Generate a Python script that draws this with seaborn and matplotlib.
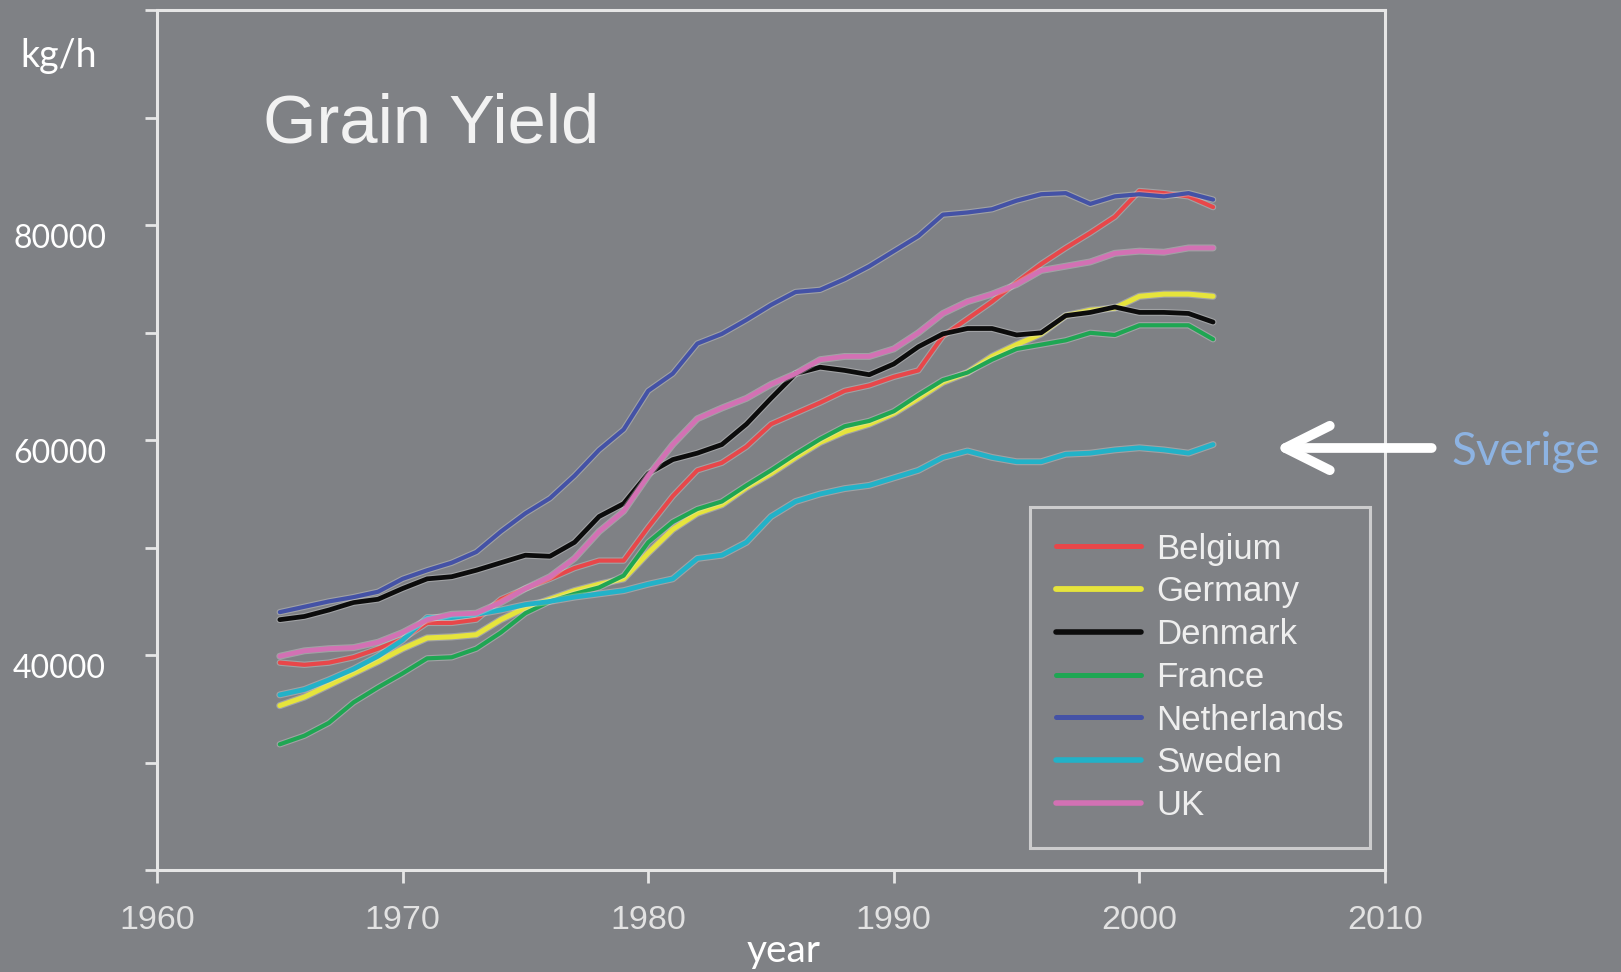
import numpy as np
import pandas as pd
import matplotlib
matplotlib.use("Agg")
import matplotlib.pyplot as plt
import matplotlib.patheffects as pe
import matplotlib.transforms as mtransforms
from matplotlib.lines import Line2D
import seaborn as sns

# ---------------- data ----------------
years = list(range(1965, 2004))

belgium = [39300, 39100, 39300, 39800, 40600, 41500, 43000, 43000, 43300, 45200,
           46200, 47100, 48100, 48800, 48800, 51900, 54800, 57200, 57900, 59400,
           61500, 62500, 63500, 64600, 65100, 65900, 66500, 69700, 71300, 72900,
           74700, 76400, 77900, 79300, 80800, 83200, 83000, 82700, 81700]
germany = [35300, 36100, 37200, 38300, 39400, 40600, 41600, 41700, 41900, 43300,
           44400, 45200, 46000, 46600, 47100, 49500, 51700, 53200, 54000, 55600,
           56900, 58400, 59800, 60800, 61500, 62500, 63900, 65400, 66300, 67800,
           68900, 69900, 71600, 72100, 72300, 73400, 73600, 73600, 73400]
denmark = [43300, 43600, 44200, 44900, 45200, 46200, 47100, 47300, 47900, 48600,
           49300, 49200, 50500, 52900, 54100, 56900, 58200, 58800, 59600, 61500,
           63900, 66200, 66800, 66500, 66100, 67100, 68700, 69900, 70400, 70400,
           69800, 70000, 71600, 71900, 72400, 71900, 71900, 71800, 71000]
france = [31700, 32500, 33700, 35600, 37000, 38300, 39700, 39800, 40600, 42100,
          43900, 45000, 45700, 46300, 47400, 50500, 52400, 53600, 54300, 55800,
          57200, 58700, 60100, 61300, 61800, 62700, 64200, 65600, 66300, 67500,
          68500, 68900, 69300, 70000, 69800, 70700, 70700, 70700, 69400]
netherlands = [44000, 44500, 45000, 45400, 45900, 47100, 47900, 48600, 49600, 51500,
               53200, 54600, 56700, 59100, 61000, 64600, 66200, 69000, 69900, 71200,
               72600, 73800, 74000, 75000, 76200, 77600, 79000, 81000, 81200, 81500,
               82300, 82900, 83000, 82000, 82700, 82900, 82700, 83000, 82400]
sweden = [36300, 36800, 37700, 38700, 39900, 41400, 43500, 43500, 43800, 44200,
          44700, 45000, 45400, 45700, 46000, 46600, 47100, 49000, 49300, 50500,
          52900, 54300, 55000, 55500, 55800, 56500, 57200, 58400, 59000, 58400,
          58000, 58000, 58700, 58800, 59100, 59300, 59100, 58800, 59600]
uk = [39900, 40400, 40600, 40700, 41200, 42100, 43300, 43800, 43900, 44900,
      46200, 47300, 49000, 51500, 53400, 56700, 59600, 62000, 63000, 63900,
      65200, 66200, 67500, 67800, 67800, 68500, 70000, 71800, 72900, 73600,
      74500, 75800, 76200, 76600, 77400, 77600, 77500, 77900, 77900]

countries = ["Belgium", "Germany", "Denmark", "France", "Netherlands", "Sweden", "UK"]
series = [belgium, germany, denmark, france, netherlands, sweden, uk]

x_ticks = [1960, 1970, 1980, 1990, 2000, 2010]
y_ticks = [20000, 30000, 40000, 50000, 60000, 70000, 80000, 90000, 100000]
y_labeled = [40000, 60000, 80000]

df = pd.DataFrame({
    "year": np.tile(years, len(countries)),
    "yield": np.concatenate(series),
    "country": np.repeat(countries, len(years)),
})

# ---------------- style ----------------
BG = "#7f8185"
SPINE = "#e6e6e6"
palette = {
    "Belgium": "#e8474a",
    "Germany": "#e6e43c",
    "Denmark": "#0c0c0c",
    "France": "#1fa653",
    "Netherlands": "#4452a6",
    "Sweden": "#22b2c8",
    "UK": "#d371b4",
}
widths = {"Belgium": 3.0, "Germany": 3.6, "Denmark": 3.4, "France": 3.0,
          "Netherlands": 3.0, "Sweden": 3.4, "UK": 3.4}

sns.set_style("ticks")
plt.rcParams["font.family"] = ["Liberation Sans", "DejaVu Sans"]

fig = plt.figure(figsize=(16.21, 9.72), dpi=100, facecolor=BG)
ax = fig.add_axes([157 / 1621, 1 - 870 / 972, 1228 / 1621, 859.5 / 972])
ax.set_facecolor(BG)

sns.lineplot(data=df, x="year", y="yield", hue="country", hue_order=countries,
             palette=palette, legend=False, ax=ax, estimator=None, sort=True)

for line, c in zip(ax.get_lines(), countries):
    line.set_linewidth(widths[c])
    line.set_path_effects([
        pe.Stroke(linewidth=widths[c] + 1.6, foreground="#e0e0e0", alpha=0.35),
        pe.Normal(),
    ])

ax.set_xlim(1960, 2010)
ax.set_ylim(20000, 100000)

for s in ax.spines.values():
    s.set_color(SPINE)
    s.set_linewidth(2.2)
    s.set_visible(True)

ax.set_xticks(x_ticks)
ax.set_xticklabels([str(v) for v in x_ticks])
ax.set_yticks(y_ticks)
ax.set_yticklabels([f"{v}" if v in y_labeled else "" for v in y_ticks])

ax.tick_params(axis="x", direction="out", length=9.7, width=2.0, color=SPINE,
               pad=15.5, labelcolor="#e2e2e2", labelsize=24.5)
ax.tick_params(axis="y", direction="out", length=8.6, width=2.0, color=SPINE,
               pad=28, labelcolor="white", labelsize=23)
offset = mtransforms.ScaledTranslation(0, -11 / 100, fig.dpi_scale_trans)
for lab in ax.get_yticklabels():
    lab.set_family(["Lato", "DejaVu Sans"])
    lab.set_transform(lab.get_transform() + offset)

ax.set_xlabel("")
ax.set_ylabel("")

# title inside the plot
ax.text((263 - 157) / 1228, (870 - 143) / 859.5, "Grain Yield", transform=ax.transAxes,
        fontsize=49.5, color="#f2f2f2", ha="left", va="baseline")

# legend
handles = [Line2D([0], [0], color=palette[c], lw=widths[c] + 0.6) for c in countries]
leg = ax.legend(handles, countries, loc="lower right",
                bbox_to_anchor=((1370 - 157) / 1228, (870 - 848) / 859.5),
                borderaxespad=0, frameon=True, fancybox=False, fontsize=25,
                handlelength=2.45, handletextpad=0.45, labelspacing=0.28,
                borderpad=0.75)
frame = leg.get_frame()
frame.set_facecolor("none")
frame.set_edgecolor("#e0e0e0")
frame.set_linewidth(2.2)
for t in leg.get_texts():
    t.set_color("#eeeeee")

# outer labels
fig.text(20 / 1621, 1 - 67 / 972, "kg/h", fontsize=27, color="white",
         family=["Lato", "DejaVu Sans"], ha="left", va="baseline")
fig.text(784 / 1621, 1 - 962 / 972, "year", fontsize=28, color="white",
         family=["Lato", "DejaVu Sans"], ha="center", va="baseline")

# Sverige annotation
ax.annotate("", xy=(2005.5, 59280), xytext=(2011.9, 59280),
            xycoords="data", textcoords="data", annotation_clip=False,
            arrowprops=dict(arrowstyle="->,head_length=0.8,head_width=0.4",
                            mutation_scale=40, lw=7, color="white",
                            capstyle="round", joinstyle="round",
                            shrinkA=0, shrinkB=0))
fig.text(1452 / 1621, 1 - 465 / 972, "Sverige", fontsize=33, color="#8db3e2",
         family=["Lato", "DejaVu Sans"], ha="left", va="baseline")

fig.savefig("out.png", dpi=100, facecolor=BG)
